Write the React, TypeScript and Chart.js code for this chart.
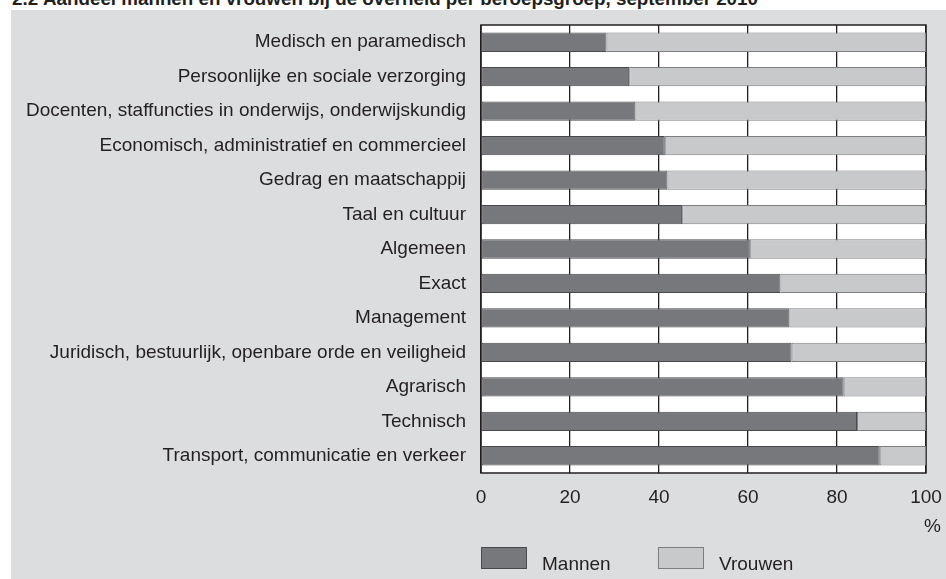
import React, { useEffect, useRef } from "react";
import { Chart, registerables } from "chart.js";

Chart.register(...registerables);

const titleNumber = "2.2";
const titleText = "Aandeel mannen en vrouwen bij de overheid per beroepsgroep, september 2010";
const categories = [
  "Medisch en paramedisch",
  "Persoonlijke en sociale verzorging",
  "Docenten, staffuncties in onderwijs, onderwijskundig",
  "Economisch, administratief en commercieel",
  "Gedrag en maatschappij",
  "Taal en cultuur",
  "Algemeen",
  "Exact",
  "Management",
  "Juridisch, bestuurlijk, openbare orde en veiligheid",
  "Agrarisch",
  "Technisch",
  "Transport, communicatie en verkeer",
];
const mannen = [28.2, 33.3, 34.7, 41.3, 41.9, 45.2, 60.4, 67.3, 69.3, 69.8, 81.5, 84.5, 89.6];
const vrouwen = [71.8, 66.7, 65.3, 58.7, 58.1, 54.8, 39.6, 32.7, 30.7, 30.2, 18.5, 15.5, 10.4];
const seriesNames = ["Mannen", "Vrouwen"];
const unitLabel = "%";

const FONT = "'Liberation Sans', Arial, Helvetica, sans-serif";
const TEXT = "#231f20";
const FS = 19;

export default function App() {
  const ref = useRef<HTMLCanvasElement | null>(null);

  useEffect(() => {
    if (!ref.current) return;
    const frame = {
      id: "frame",
      beforeDraw(chart: any) {
        const { ctx, chartArea: a } = chart;
        ctx.save();
        ctx.fillStyle = "#ffffff";
        ctx.fillRect(a.left, a.top, a.right - a.left, a.bottom - a.top);
        ctx.restore();
      },
      beforeDatasetsDraw(chart: any) {
        const { ctx, chartArea: a } = chart;
        ctx.save();
        ctx.strokeStyle = TEXT;
        ctx.lineWidth = 1.5;
        ctx.strokeRect(a.left, a.top, a.right - a.left, a.bottom - a.top);
        ctx.restore();
      },
      afterDraw(chart: any) {
        const { ctx, chartArea: a } = chart;
        ctx.save();
        ctx.font = `${FS}px ${FONT}`;
        ctx.fillStyle = TEXT;
        ctx.textAlign = "right";
        ctx.textBaseline = "alphabetic";
        ctx.fillText(unitLabel, a.right + 15, 522);
        const ds = chart.data.datasets;
        const xs = [a.left, a.left + 177];
        ds.forEach((d: any, i: number) => {
          const x = xs[i];
          ctx.fillStyle = d.backgroundColor;
          ctx.fillRect(x, 537, 46, 22);
          ctx.strokeStyle = d.borderColor;
          ctx.lineWidth = 1;
          ctx.strokeRect(x + 0.5, 537.5, 45, 21);
          ctx.fillStyle = TEXT;
          ctx.textAlign = "left";
          ctx.fillText(d.label, x + 61, 560);
        });
        ctx.restore();
      },
    };

    const chart = new Chart(ref.current, {
      type: "bar",
      data: {
        labels: categories,
        datasets: [
          {
            label: seriesNames[0],
            data: mannen,
            backgroundColor: "#77787b",
            borderColor: "#48494b",
            borderWidth: 1,
            borderSkipped: false,
          },
          {
            label: seriesNames[1],
            data: vrouwen,
            backgroundColor: "#c8c9cb",
            borderColor: "#7d7e80",
            borderWidth: 1,
            borderSkipped: false,
          },
        ],
      },
      options: {
        indexAxis: "y",
        responsive: false,
        animation: false,
        layout: { padding: { top: 15, right: 20, left: 0, bottom: 0 } },
        datasets: { bar: { barPercentage: 0.56, categoryPercentage: 1 } },
        plugins: { legend: { display: false }, tooltip: { enabled: false }, title: { display: false } },
        scales: {
          x: {
            stacked: true,
            min: 0,
            max: 100,
            grid: { color: TEXT, lineWidth: 1.3, drawTicks: false },
            border: { display: false },
            ticks: { stepSize: 20, padding: 13, color: TEXT, font: { family: FONT, size: FS } },
            afterFit(scale: any) {
              scale.height = 106;
              scale.paddingLeft = 0;
              scale.paddingRight = 0;
            },
          },
          y: {
            stacked: true,
            grid: { display: false, drawTicks: false },
            border: { display: false },
            ticks: { padding: 15, color: TEXT, font: { family: FONT, size: FS } },
            afterFit(scale: any) {
              scale.width = 470;
              scale.paddingTop = 0;
              scale.paddingBottom = 0;
            },
          },
        },
      },
      plugins: [frame],
    } as any);
    return () => chart.destroy();
  }, []);

  return (
    <div
      style={{
        position: "fixed",
        left: 0,
        top: 0,
        width: 946,
        height: 579,
        overflow: "hidden",
        background: "#ffffff",
      }}
    >
      <div
        style={{
          position: "absolute",
          left: 12,
          top: -11,
          whiteSpace: "nowrap",
          font: `bold 18.8px ${FONT}`,
          lineHeight: "20px",
          color: TEXT,
        }}
      >
        {titleNumber}
      </div>
      <div
        style={{
          position: "absolute",
          left: 43,
          top: -11,
          whiteSpace: "nowrap",
          font: `bold 18.8px ${FONT}`,
          lineHeight: "20px",
          color: TEXT,
        }}
      >
        {titleText}
      </div>
      <div style={{ position: "absolute", left: 11, top: 10, width: 935, height: 569, background: "#dcdddf" }}>
        <canvas ref={ref} width={935} height={569} style={{ display: "block" }} />
      </div>
    </div>
  );
}
